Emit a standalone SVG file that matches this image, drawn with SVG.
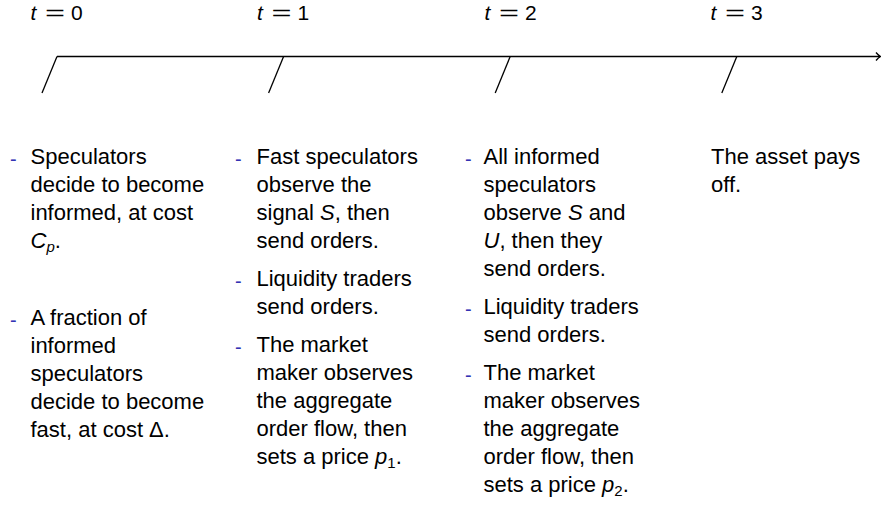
<svg xmlns="http://www.w3.org/2000/svg" width="881" height="509" viewBox="0 0 881 509">
<style>
text{font-family:"Liberation Sans",Arial,sans-serif;font-size:22px;fill:#000}
.d{fill:#3333b3;font-size:20px}
.i{font-style:italic}
.s{font-size:15px}
.m{font-size:21px}
.tl{stroke:#000;stroke-width:1.3;fill:none;stroke-linecap:butt}
</style>
<rect width="881" height="509" fill="#fff"/>
<g id="connectors">
<line class="tl" x1="57" y1="56.5" x2="880" y2="56.5"/>
<path class="tl" d="M876 52.5 Q878.5 55.5 880.6 56.5 Q878.5 57.5 876 60.5"/>
<line class="tl" x1="57" y1="56.5" x2="42" y2="93"/>
<line class="tl" x1="283.6" y1="56.5" x2="268.6" y2="93"/>
<line class="tl" x1="510.2" y1="56.5" x2="495.2" y2="93"/>
<line class="tl" x1="736.8" y1="56.5" x2="721.8" y2="93"/>
</g>
<g id="t0">
<text class="m i" x="30.5" y="19.5">t</text>
<text class="m" x="45" y="19.5" textLength="20" lengthAdjust="spacingAndGlyphs">=</text>
<text class="m" x="71" y="19.5">0</text>
</g>
<g id="t1">
<text class="m i" x="257" y="19.5">t</text>
<text class="m" x="271.5" y="19.5" textLength="20" lengthAdjust="spacingAndGlyphs">=</text>
<text class="m" x="297.5" y="19.5">1</text>
</g>
<g id="t2">
<text class="m i" x="484.5" y="19.5">t</text>
<text class="m" x="499" y="19.5" textLength="20" lengthAdjust="spacingAndGlyphs">=</text>
<text class="m" x="525" y="19.5">2</text>
</g>
<g id="t3">
<text class="m i" x="710.5" y="19.5">t</text>
<text class="m" x="725" y="19.5" textLength="20" lengthAdjust="spacingAndGlyphs">=</text>
<text class="m" x="751" y="19.5">3</text>
</g>
<g id="col0">
<text class="d" x="10" y="165.5">-</text>
<text x="30.5" y="164">Speculators</text>
<text x="30.5" y="192">decide to become</text>
<text x="30.5" y="220">informed, at cost</text>
<text x="30.5" y="248"><tspan class="i">C</tspan><tspan class="i s" dy="4">p</tspan><tspan dy="-4">.</tspan></text>
<text class="d" x="10" y="326.5">-</text>
<text x="30.5" y="325">A fraction of</text>
<text x="30.5" y="353">informed</text>
<text x="30.5" y="381">speculators</text>
<text x="30.5" y="409">decide to become</text>
<text x="30.5" y="437">fast, at cost Δ.</text>
</g>
<g id="col1">
<text class="d" x="235" y="165.5">-</text>
<text x="256.5" y="164">Fast speculators</text>
<text x="256.5" y="192">observe the</text>
<text x="256.5" y="220">signal <tspan class="i">S</tspan>, then</text>
<text x="256.5" y="248">send orders.</text>
<text class="d" x="235" y="287.5">-</text>
<text x="256.5" y="286">Liquidity traders</text>
<text x="256.5" y="314">send orders.</text>
<text class="d" x="235" y="353.5">-</text>
<text x="256.5" y="352">The market</text>
<text x="256.5" y="380">maker observes</text>
<text x="256.5" y="408">the aggregate</text>
<text x="256.5" y="436">order flow, then</text>
<text x="256.5" y="464">sets a price <tspan class="i">p</tspan><tspan class="s" dy="4">1</tspan><tspan dy="-4">.</tspan></text>
</g>
<g id="col2">
<text class="d" x="465" y="165.5">-</text>
<text x="483.5" y="164">All informed</text>
<text x="483.5" y="192">speculators</text>
<text x="483.5" y="220">observe <tspan class="i">S</tspan> and</text>
<text x="483.5" y="248"><tspan class="i">U</tspan>, then they</text>
<text x="483.5" y="276">send orders.</text>
<text class="d" x="465" y="315.5">-</text>
<text x="483.5" y="314">Liquidity traders</text>
<text x="483.5" y="342">send orders.</text>
<text class="d" x="465" y="381.5">-</text>
<text x="483.5" y="380">The market</text>
<text x="483.5" y="408">maker observes</text>
<text x="483.5" y="436">the aggregate</text>
<text x="483.5" y="464">order flow, then</text>
<text x="483.5" y="492">sets a price <tspan class="i">p</tspan><tspan class="s" dy="4">2</tspan><tspan dy="-4">.</tspan></text>
</g>
<g id="col3">
<text x="711" y="164">The asset pays</text>
<text x="711" y="192">off.</text>
</g>
</svg>
